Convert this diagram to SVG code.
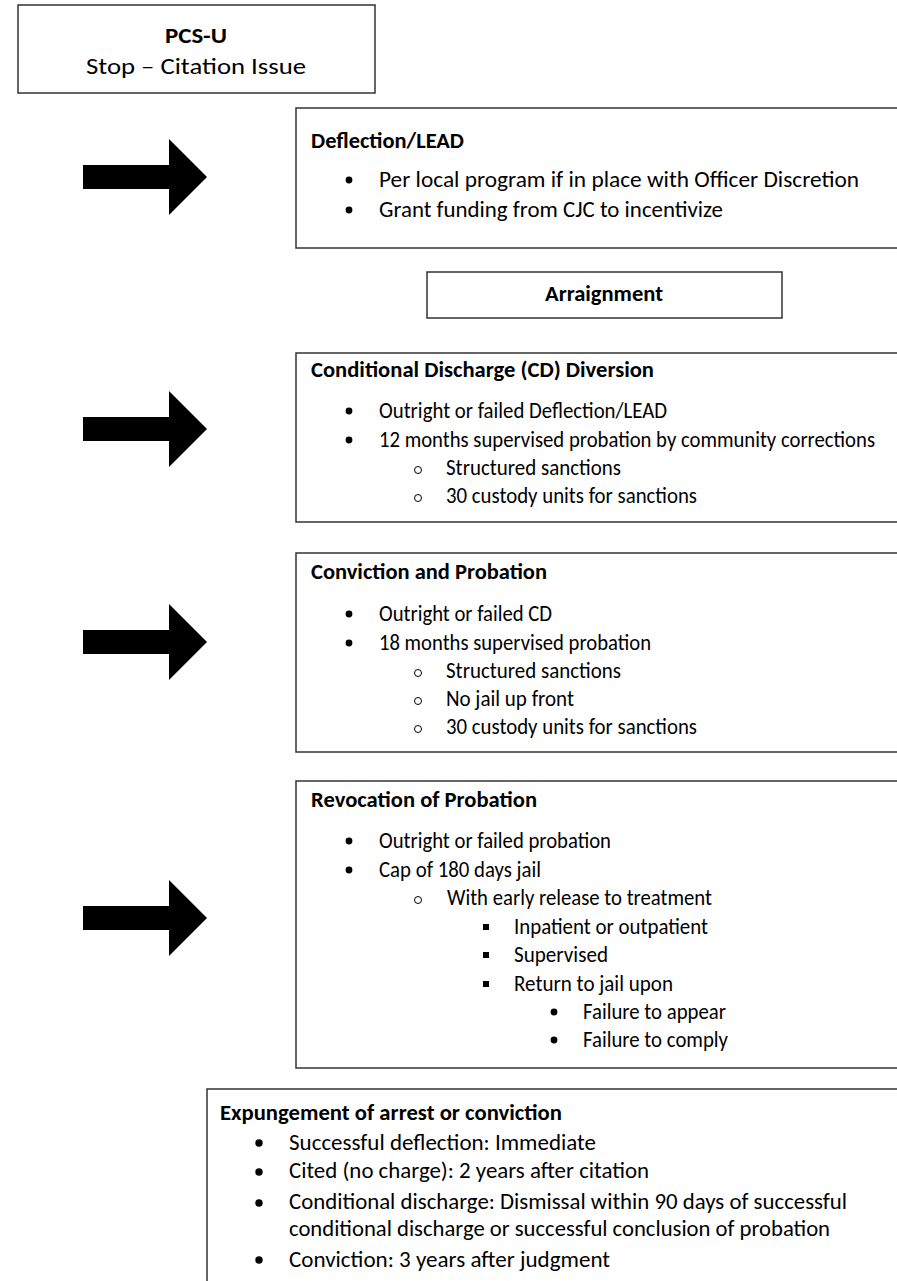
<svg xmlns="http://www.w3.org/2000/svg" xmlns:xlink="http://www.w3.org/1999/xlink" width="897" height="1281" viewBox="0 0 897 1281">
<style>
.box{fill:#fff;stroke:#333;stroke-width:1.5}
.t{font-family:Carlito,Lato,"Liberation Sans",sans-serif;font-size:22px;fill:#000}
.b{font-weight:bold}
.dot{fill:#000}
.ring{fill:none;stroke:#000;stroke-width:1}
.arrow{fill:#000}
</style>
<defs>
<path id="arr" d="M83,-12 H169 V-38 L207,0 L169,38 V12 H83 Z"/>
</defs>
<rect width="897" height="1281" fill="#fff"/>
<g id="connectors">
<use xlink:href="#arr" class="arrow" transform="translate(0,177)"/>
<use xlink:href="#arr" class="arrow" transform="translate(0,429)"/>
<use xlink:href="#arr" class="arrow" transform="translate(0,642)"/>
<use xlink:href="#arr" class="arrow" transform="translate(0,918)"/>
</g>
<g id="pcs">
<rect class="box" x="18" y="5" width="357" height="88"/>
<text class="t b" x="196" y="43" text-anchor="middle" font-size="25" textLength="62" lengthAdjust="spacingAndGlyphs">PCS-U</text>
<text class="t" x="196" y="74" text-anchor="middle" font-size="25" textLength="220" lengthAdjust="spacingAndGlyphs">Stop – Citation Issue</text>
</g>
<g id="deflection">
<rect class="box" x="296" y="108" width="640" height="140"/>
<text class="t b" x="311" y="148" textLength="153" lengthAdjust="spacingAndGlyphs">Deflection/LEAD</text>
<circle class="dot" cx="349" cy="180" r="3.4"/><text class="t" x="379" y="187" textLength="480" lengthAdjust="spacingAndGlyphs">Per local program if in place with Officer Discretion</text>
<circle class="dot" cx="349" cy="210" r="3.4"/><text class="t" x="379" y="217" textLength="344" lengthAdjust="spacingAndGlyphs">Grant funding from CJC to incentivize</text>
</g>
<g id="arraignment">
<rect class="box" x="427" y="272" width="355" height="46"/>
<text class="t b" x="604" y="301" text-anchor="middle" font-size="20" textLength="118" lengthAdjust="spacingAndGlyphs">Arraignment</text>
</g>
<g id="cd">
<rect class="box" x="296" y="353" width="640" height="169"/>
<text class="t b" x="311" y="377" textLength="343" lengthAdjust="spacingAndGlyphs">Conditional Discharge (CD) Diversion</text>
<circle class="dot" cx="349" cy="411" r="3.4"/><text class="t" x="379" y="418" textLength="288" lengthAdjust="spacingAndGlyphs">Outright or failed Deflection/LEAD</text>
<circle class="dot" cx="349" cy="440" r="3.4"/><text class="t" x="379" y="447" textLength="496" lengthAdjust="spacingAndGlyphs">12 months supervised probation by community corrections</text>
<circle class="ring" cx="418" cy="470" r="3.5"/><text class="t" x="446" y="475" textLength="175" lengthAdjust="spacingAndGlyphs">Structured sanctions</text>
<circle class="ring" cx="418" cy="498" r="3.5"/><text class="t" x="446" y="503" textLength="251" lengthAdjust="spacingAndGlyphs">30 custody units for sanctions</text>
</g>
<g id="conviction">
<rect class="box" x="296" y="553" width="640" height="199"/>
<text class="t b" x="311" y="579" textLength="236" lengthAdjust="spacingAndGlyphs">Conviction and Probation</text>
<circle class="dot" cx="349" cy="614" r="3.4"/><text class="t" x="379" y="621" textLength="173" lengthAdjust="spacingAndGlyphs">Outright or failed CD</text>
<circle class="dot" cx="349" cy="643" r="3.4"/><text class="t" x="379" y="650" textLength="272" lengthAdjust="spacingAndGlyphs">18 months supervised probation</text>
<circle class="ring" cx="418" cy="673" r="3.5"/><text class="t" x="446" y="678" textLength="175" lengthAdjust="spacingAndGlyphs">Structured sanctions</text>
<circle class="ring" cx="418" cy="701" r="3.5"/><text class="t" x="446" y="706" textLength="128" lengthAdjust="spacingAndGlyphs">No jail up front</text>
<circle class="ring" cx="418" cy="729" r="3.5"/><text class="t" x="446" y="734" textLength="251" lengthAdjust="spacingAndGlyphs">30 custody units for sanctions</text>
</g>
<g id="revocation">
<rect class="box" x="296" y="781" width="640" height="287"/>
<text class="t b" x="311" y="807" textLength="226" lengthAdjust="spacingAndGlyphs">Revocation of Probation</text>
<circle class="dot" cx="349" cy="841" r="3.4"/><text class="t" x="379" y="848" textLength="232" lengthAdjust="spacingAndGlyphs">Outright or failed probation</text>
<circle class="dot" cx="349" cy="870" r="3.4"/><text class="t" x="379" y="877" textLength="162" lengthAdjust="spacingAndGlyphs">Cap of 180 days jail</text>
<circle class="ring" cx="418" cy="900" r="3.5"/><text class="t" x="447" y="905" textLength="265" lengthAdjust="spacingAndGlyphs">With early release to treatment</text>
<rect class="dot" x="483" y="924" width="6" height="6"/><text class="t" x="514" y="934" textLength="194" lengthAdjust="spacingAndGlyphs">Inpatient or outpatient</text>
<rect class="dot" x="483" y="952" width="6" height="6"/><text class="t" x="514" y="962" textLength="94" lengthAdjust="spacingAndGlyphs">Supervised</text>
<rect class="dot" x="483" y="981" width="6" height="6"/><text class="t" x="514" y="991" textLength="159" lengthAdjust="spacingAndGlyphs">Return to jail upon</text>
<circle class="dot" cx="554" cy="1012" r="3.4"/><text class="t" x="583" y="1019" textLength="143" lengthAdjust="spacingAndGlyphs">Failure to appear</text>
<circle class="dot" cx="554" cy="1040" r="3.4"/><text class="t" x="583" y="1047" textLength="145" lengthAdjust="spacingAndGlyphs">Failure to comply</text>
</g>
<g id="expungement">
<rect class="box" x="207" y="1089" width="740" height="220"/>
<text class="t b" x="220" y="1120" font-size="20" textLength="342" lengthAdjust="spacingAndGlyphs">Expungement of arrest or conviction</text>
<circle class="dot" cx="259" cy="1143" r="3.7"/><text class="t" x="289" y="1150" font-size="23" textLength="307" lengthAdjust="spacingAndGlyphs">Successful deflection:  Immediate</text>
<circle class="dot" cx="259" cy="1172" r="3.7"/><text class="t" x="289" y="1178" font-size="23" textLength="360" lengthAdjust="spacingAndGlyphs">Cited (no charge):  2 years after citation</text>
<circle class="dot" cx="259" cy="1203" r="3.7"/><text class="t" x="289" y="1209" font-size="23" textLength="558" lengthAdjust="spacingAndGlyphs">Conditional discharge:  Dismissal within 90 days of successful</text>
<text class="t" x="289" y="1236" font-size="23" textLength="541" lengthAdjust="spacingAndGlyphs">conditional discharge or successful conclusion of probation</text>
<circle class="dot" cx="259" cy="1260" r="3.7"/><text class="t" x="289" y="1267" font-size="23" textLength="321" lengthAdjust="spacingAndGlyphs">Conviction:  3 years after judgment</text>
</g>
</svg>
